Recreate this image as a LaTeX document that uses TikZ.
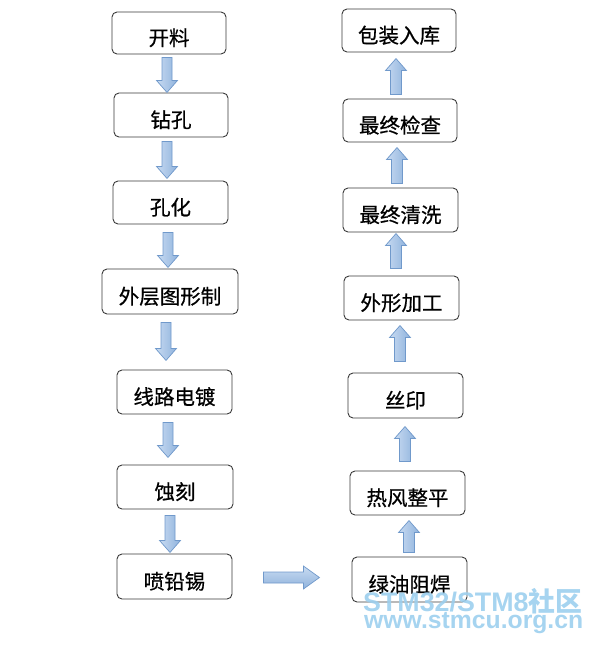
\documentclass[tikz,border=0pt]{standalone}
\usepackage{fontspec}
\setmainfont{Liberation Sans}
\newfontfamily\cjk{Noto Sans CJK SC}[FakeBold=0.6]
\newfontfamily\wmfont{Liberation Sans}[BoldFont={Liberation Sans Bold}]
\newfontfamily\wmcjk{Noto Sans CJK SC}
\usetikzlibrary{calc}
\definecolor{boxline}{HTML}{3A3A3A}
\definecolor{arrlight}{HTML}{C8DBF1}
\definecolor{arrdark}{HTML}{8FB2DC}
\definecolor{arrline}{HTML}{7099CB}
\definecolor{wmblue}{HTML}{9CCFEE}
\newcommand{\arrdown}[2]{\path[arrowbody,left color=arrlight,right color=arrdark] #1 ++(-5,0) -- ++(0,{#2-12}) -- ++(-5.5,0) -- ++(10.5,12) -- ++(10.5,-12) -- ++(-5.5,0) -- ++(0,{-(#2-12)}) -- cycle;}
\newcommand{\arrup}[2]{\path[arrowbody,left color=arrlight,right color=arrdark] #1 ++(-5.5,0) -- ++(0,{-(#2-12)}) -- ++(-5,0) -- ++(10.5,-12) -- ++(10.5,12) -- ++(-5,0) -- ++(0,{#2-12}) -- cycle;}
\newcommand{\arrright}[2]{\path[arrowbody,top color=arrlight,bottom color=arrdark] #1 ++(0,-5.5) -- ++({#2-16},0) -- ++(0,-6) -- ++(16,11.5) -- ++(-16,11.5) -- ++(0,-6) -- ++({-(#2-16)},0) -- cycle;}
\tikzset{
  stepbox/.style={draw=boxline, line width=0.9pt, rounded corners=5pt, fill=white,
    minimum width=115pt, minimum height=44pt, inner sep=0pt, font=\cjk\fontsize{20.5pt}{22pt}\selectfont},
  arrowbody/.style={draw=arrline, line width=0.7pt},
  wmtext/.style={text=wmblue, opacity=0.9, inner sep=0pt, anchor=base west}
}
\newcommand{\lbl}[1]{\raisebox{-12.5pt}[0pt][0pt]{#1}}
\begin{document}
\begin{tikzpicture}[x=1pt,y=-1pt]
\useasboundingbox (0,0) rectangle (594,645);
% left column
\node[stepbox, minimum width=114pt, minimum height=42pt] (kl) at (169,33) {\lbl{开料}};
\node[stepbox, minimum width=114pt, minimum height=44pt] (zk) at (171,115) {\lbl{钻孔}};
\node[stepbox, minimum width=115pt, minimum height=43pt] (kh) at (170.5,202.5) {\lbl{孔化}};
\node[stepbox, minimum width=136pt, minimum height=45pt] (wc) at (170,291.5) {\lbl{外层图形制}};
\node[stepbox, minimum width=115pt, minimum height=44pt] (xl) at (174.5,392) {\lbl{线路电镀}};
\node[stepbox, minimum width=116pt, minimum height=44pt] (sk) at (175,487) {\lbl{蚀刻}};
\node[stepbox, minimum width=115pt, minimum height=45pt] (pq) at (174.5,576.5) {\lbl{喷铅锡}};
% right column
\node[stepbox, minimum width=114pt, minimum height=43pt] (bz) at (399,30.5) {\lbl{包装入库}};
\node[stepbox, minimum width=114pt, minimum height=43pt] (jc) at (400,120.5) {\lbl{最终检查}};
\node[stepbox, minimum width=115pt, minimum height=44pt] (qx) at (400.5,210) {\lbl{最终清洗}};
\node[stepbox, minimum width=115pt, minimum height=44pt] (wx) at (401.5,298) {\lbl{外形加工}};
\node[stepbox, minimum width=115pt, minimum height=45pt] (sy) at (405.5,395.5) {\lbl{丝印}};
\node[stepbox, minimum width=115pt, minimum height=44pt] (rf) at (407.5,493) {\lbl{热风整平}};
\node[stepbox, minimum width=115pt, minimum height=45pt] (ly) at (409.5,579.5) {\lbl{绿油阻焊}};
% down arrows (left)
\arrdown{($(kl.south)+(-2,3)$)}{35}
\arrdown{($(zk.south)+(-4,4)$)}{37}
\arrdown{($(kh.south)+(-2.5,8)$)}{35}
\arrdown{($(wc.south)+(-4,8)$)}{38}
\arrdown{($(xl.south)+(-6.5,8)$)}{35}
\arrdown{($(sk.south)+(-5,6)$)}{37}
% up arrows (right)
\arrup{($(jc.north)+(-4,-4)$)}{36}
\arrup{($(qx.north)+(-3.5,-4)$)}{36}
\arrup{($(wx.north)+(-5.5,-7)$)}{35}
\arrup{($(sy.north)+(-5.5,-11)$)}{36}
\arrup{($(rf.north)+(-2.5,-9)$)}{35}
\arrup{($(ly.north)+(-0.5,-4)$)}{32}
% horizontal arrow
\arrright{($(pq.east)+(31,1)$)}{56}
% watermark
\node[wmtext] (wm1) at (363,611) {\resizebox{219pt}{!}{\wmfont\bfseries\fontsize{27pt}{30pt}\selectfont STM32/STM8{\wmcjk\bfseries 社区}}};
\node[wmtext] (wm2) at (364,628) {\resizebox{219pt}{!}{\wmfont\bfseries\fontsize{24.5pt}{28pt}\selectfont www.stmcu.org.cn}};
\end{tikzpicture}
\end{document}
